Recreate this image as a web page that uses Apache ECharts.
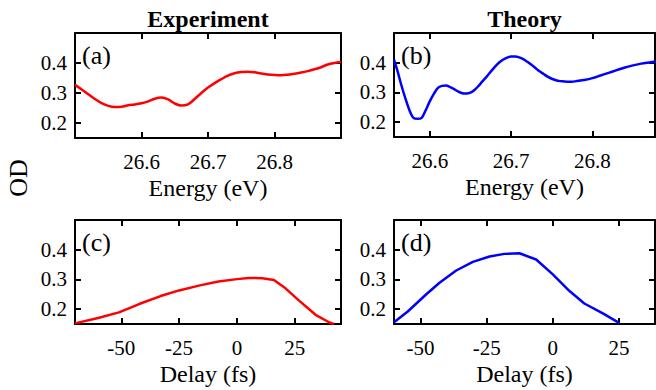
<!DOCTYPE html>
<html>
<head>
<meta charset="utf-8">
<script src="https://cdn.jsdelivr.net/npm/echarts@6/dist/echarts.min.js"></script>
<style>
html,body{margin:0;padding:0;background:#fff;}
#chart{width:656px;height:390px;}
</style>
</head>
<body>
<div id="chart"></div>
<script>
// ---- data ----
const expEnergy   = [26.50,26.51,26.52,26.53,26.54,26.55,26.56,26.57,26.58,26.59,26.60,26.61,26.62,26.63,26.64,26.65,26.66,26.67,26.68,26.69,26.70,26.71,26.72,26.73,26.74,26.75,26.76,26.77,26.78,26.79,26.80,26.81,26.82,26.83,26.84,26.85,26.86,26.87,26.88,26.89,26.90];
const expEnergyOD = [0.327,0.312,0.296,0.280,0.266,0.257,0.253,0.254,0.259,0.262,0.266,0.272,0.281,0.285,0.279,0.265,0.258,0.262,0.280,0.300,0.318,0.333,0.346,0.358,0.366,0.370,0.371,0.369,0.365,0.362,0.360,0.359,0.361,0.364,0.368,0.373,0.379,0.386,0.395,0.400,0.403];

const thEnergy   = [26.556,26.560,26.565,26.570,26.575,26.580,26.585,26.590,26.595,26.600,26.605,26.610,26.615,26.620,26.625,26.630,26.635,26.640,26.645,26.650,26.655,26.660,26.665,26.670,26.675,26.680,26.685,26.690,26.695,26.700,26.705,26.710,26.715,26.720,26.725,26.730,26.735,26.740,26.745,26.750,26.755,26.760,26.765,26.770,26.775,26.780,26.790,26.800,26.810,26.820,26.830,26.840,26.850,26.860,26.870,26.878];
const thEnergyOD = [0.410,0.375,0.325,0.280,0.240,0.214,0.211,0.214,0.240,0.270,0.295,0.315,0.322,0.323,0.318,0.311,0.303,0.297,0.296,0.299,0.308,0.322,0.338,0.353,0.370,0.386,0.400,0.410,0.417,0.421,0.421,0.418,0.412,0.403,0.393,0.382,0.371,0.362,0.353,0.346,0.341,0.338,0.337,0.336,0.336,0.338,0.342,0.348,0.357,0.366,0.375,0.384,0.391,0.397,0.401,0.404];

const expDelay   = [-70,-60,-51,-42,-33,-25,-16,-8,0,5,11,16,21,27,34,40,42];
const expDelayOD = [0.152,0.170,0.189,0.218,0.244,0.263,0.280,0.293,0.301,0.305,0.304,0.298,0.270,0.228,0.181,0.155,0.150];

const thDelay   = [-60,-54.8,-47.8,-42.8,-36.5,-30.2,-23.9,-18.3,-12.6,-6.3,0,6.3,11.9,18.9,25.2];
const thDelayOD = [0.156,0.192,0.250,0.289,0.330,0.359,0.377,0.386,0.388,0.367,0.317,0.261,0.219,0.186,0.153];

const energyTicks = [26.6,26.7,26.8];
const delayTicks  = [-50,-25,0,25];
const odTicks     = [0.2,0.3,0.4];

const panelTitles = ['Experiment','Theory'];
const panelTags   = ['(a)','(b)','(c)','(d)'];
const xNames      = ['Energy (eV)','Energy (eV)','Delay (fs)','Delay (fs)'];
const yName       = 'OD';

// ---- layout ----
const FONT = "'Liberation Serif','Times New Roman',serif";
const grids = [
  {left:75,  top:33,  width:266, height:105},
  {left:394, top:33,  width:261, height:104},
  {left:75,  top:220, width:266, height:104},
  {left:394, top:220, width:261, height:104}
];
const xRanges = [[26.5,26.9],[26.556,26.877],[-70,45],[-60,38.6]];
const xTicks  = [energyTicks,energyTicks,delayTicks,delayTicks];
const colors  = ['#ff0000','#0000ff','#ff0000','#0000ff'];
const xs = [expEnergy,thEnergy,expDelay,thDelay];
const ys = [expEnergyOD,thEnergyOD,expDelayOD,thDelayOD];
const smooth = [0.3,0.3,false,false];

const lineStyle = {color:'#000', width:2};
const xAxis = [], yAxis = [], series = [];
for (let i=0;i<4;i++){
  const base = {
    gridIndex:i, type:'value', min:xRanges[i][0], max:xRanges[i][1],
    splitLine:{show:false},
    axisLine:{show:true, onZero:false, lineStyle:lineStyle},
    axisTick:{show:true, inside:true, length:6, lineStyle:lineStyle, customValues:xTicks[i]}
  };
  xAxis.push(Object.assign({}, base, {
    position:'bottom',
    axisLabel:{show:true, customValues:xTicks[i], fontSize:21, fontFamily:FONT, color:'#000', margin:13},
    name:xNames[i], nameLocation:'middle', nameGap:38,
    nameTextStyle:{fontSize:24, fontFamily:FONT, color:'#000'}
  }));
  xAxis.push(Object.assign({}, base, {position:'top', axisLabel:{show:false}}));
  const ybase = {
    gridIndex:i, type:'value', min:0.15, max:0.5,
    splitLine:{show:false},
    axisLine:{show:true, onZero:false, lineStyle:lineStyle},
    axisTick:{show:true, inside:true, length:6, lineStyle:lineStyle, customValues:odTicks}
  };
  yAxis.push(Object.assign({}, ybase, {
    position:'left',
    axisLabel:{show:true, customValues:odTicks, fontSize:21, fontFamily:FONT, color:'#000', margin:8,
      formatter:v=>v.toFixed(1)}
  }));
  yAxis.push(Object.assign({}, ybase, {position:'right', axisLabel:{show:false}}));
  series.push({
    type:'line', xAxisIndex:2*i, yAxisIndex:2*i,
    data: xs[i].map((x,k)=>[x, ys[i][k]]),
    showSymbol:false, smooth:smooth[i], clip:true,
    lineStyle:{color:colors[i], width:2.5}, itemStyle:{color:colors[i]},
    animation:false
  });
}

const graphic = [];
panelTitles.forEach((t,j)=>{
  const g = grids[j];
  graphic.push({type:'text', x:g.left+g.width/2, y:19,
    style:{text:t, fontSize:24, fontWeight:'bold', fontFamily:FONT, fill:'#000', align:'center', verticalAlign:'middle'}});
});
panelTags.forEach((t,j)=>{
  const g = grids[j];
  graphic.push({type:'text', x:g.left+7, y:g.top+22,
    style:{text:t, fontSize:26, fontFamily:FONT, fill:'#000', align:'left', verticalAlign:'middle'}});
});
graphic.push({type:'text', x:18, y:178, rotation:Math.PI/2,
  style:{text:yName, fontSize:26, fontFamily:FONT, fill:'#000', align:'center', verticalAlign:'middle'}});

const chart = echarts.init(document.getElementById('chart'), null, {renderer:'svg'});
chart.setOption({
  animation:false,
  backgroundColor:'#fff',
  grid:grids,
  xAxis:xAxis, yAxis:yAxis, series:series, graphic:graphic
});
</script>
</body>
</html>
